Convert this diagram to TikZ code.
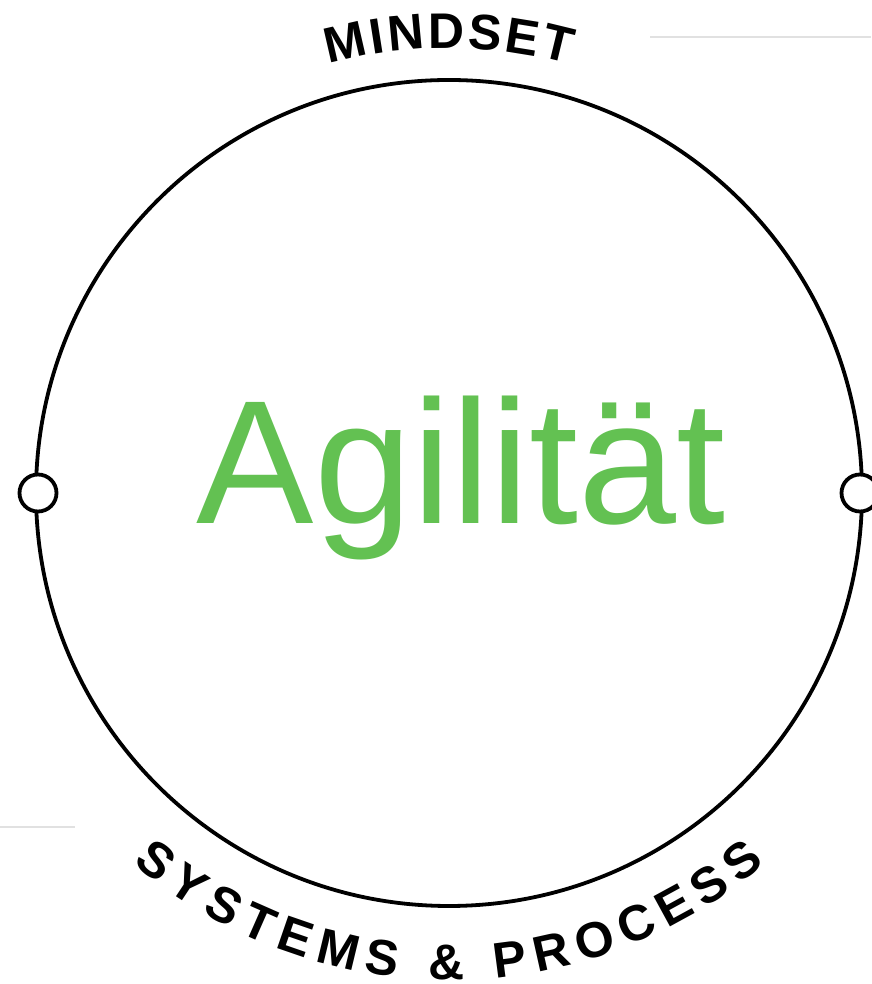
\documentclass[tikz,border=0pt]{standalone}
\usepackage{fontspec}
\setmainfont{Liberation Sans}
\usetikzlibrary{decorations.text}

\definecolor{agilegreen}{RGB}{99,193,82}
\definecolor{rulegray}{RGB}{225,225,225}

\begin{document}
\begin{tikzpicture}
        [x=1pt, y=1pt,
        ring/.style={draw, circle, line width=3.8pt, inner sep=0pt, outer sep=0pt},
        knob/.style={draw, circle, fill=white, line width=3.8pt, inner sep=0pt, minimum size=37pt},
        bigword/.style={text=agilegreen, font=\fontsize{176}{176}\selectfont},
        arcword/.style={font=\bfseries\fontsize{50}{50}\selectfont},
        rule/.style={draw=rulegray, line width=2pt}]

    \useasboundingbox (0,0) rectangle (871,984);

    \begin{scope}
      \node[ring, minimum size=826pt] (circ) at (449,491) {};
      \node[knob] (left) at ([xshift=2pt]circ.west) {};
      \node[knob] (right) at ([xshift=-2pt]circ.east) {};
      \node[bigword, anchor=base] (title) at (461,460) {Agilität};
    \end{scope}

    % labels round the ring
    \path[arcword, decorate, decoration={text effects along path, text={MINDSET}, text align=center,
        text effects/.cd, text along path, character widths={arcword, inner xsep=1.5pt},
        characters={arcword}}]
      (circ.center) ++(128:445) arc[start angle=128, end angle=52, radius=445];
    \path[arcword, decorate, decoration={text effects along path, text={SYSTEMS {\&} PROCESS}, text align=center,
        text effects/.cd, text along path, character widths={arcword, inner xsep=4.4pt},
        characters={arcword}}]
      (circ.center) ++(215:487) arc[start angle=215, end angle=325, radius=487];

    \coordinate (t1) at (650,947);
    \coordinate (t2) at (871,947);
    \coordinate (b1) at (0,157);
    \coordinate (b2) at (75,157);
    \draw[rule] (t1) -- (t2);
    \draw[rule] (b1) -- (b2);
    \end{tikzpicture}
\end{document}
